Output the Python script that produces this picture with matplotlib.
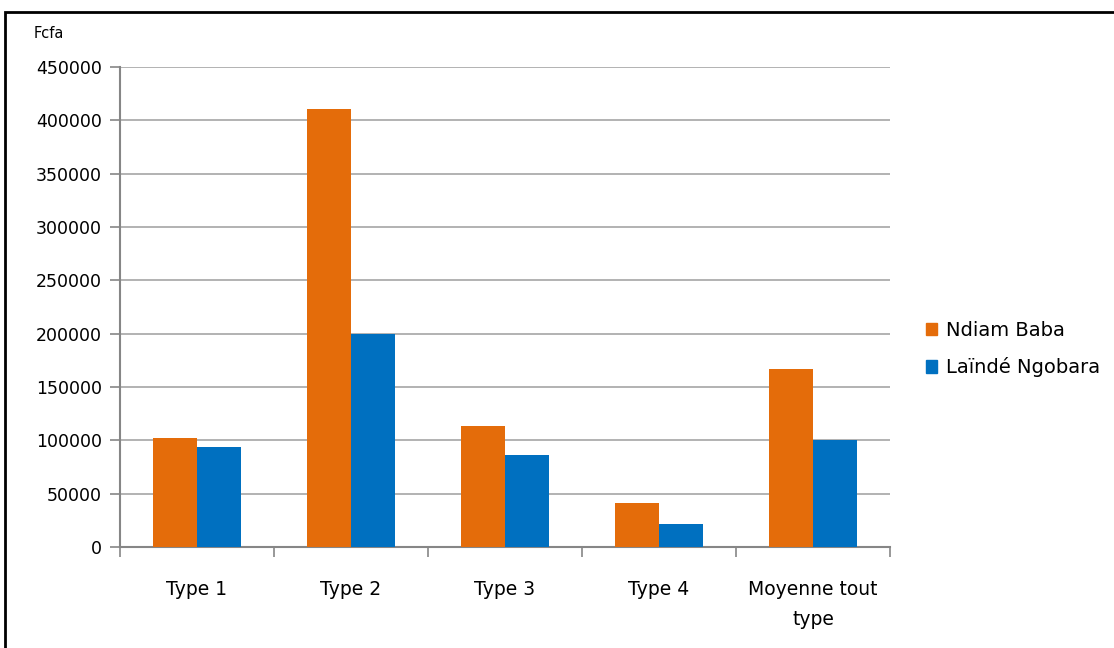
import matplotlib
matplotlib.use("Agg")
import matplotlib.pyplot as plt
import matplotlib.patches as mpatches
import numpy as np

# data
categories = ["Type 1", "Type 2", "Type 3", "Type 4", "Moyenne tout\ntype"]
ndiam_baba = [102000, 411000, 113000, 41000, 167000]
lainde_ngobara = [94000, 200000, 86000, 22000, 100000]
series_names = ["Ndiam Baba", "Laïndé Ngobara"]

colors = {"Ndiam Baba": "#E46C0A", "Laïndé Ngobara": "#0070C0"}

plt.rcParams['font.family'] = ['DejaVu Sans']

W, H = 1114, 648
fig = plt.figure(figsize=(W / 100, H / 100), dpi=100)
ax = fig.add_axes([120 / W, 1 - 547 / H, 770 / W, 480 / H])

x = np.arange(len(categories))
bw = 1 / 3.5   # excel gap width 150%
ax.bar(x - bw / 2, ndiam_baba, bw, color=colors["Ndiam Baba"], label="Ndiam Baba", zorder=3)
ax.bar(x + bw / 2, lainde_ngobara, bw, color=colors["Laïndé Ngobara"], label="Laïndé Ngobara", zorder=3)

ax.set_xlim(-0.5, len(categories) - 0.5)
ax.set_ylim(0, 450000)
ax.set_yticks(np.arange(0, 450001, 50000))
ax.yaxis.grid(True, color="#A6A6A6", linewidth=1.2, zorder=0)

# category boundaries as major ticks, labels on minor ticks
ax.set_xticks(np.arange(-0.5, len(categories), 1.0))
ax.set_xticklabels([])
ax.set_xticks(x, minor=True)
ax.set_xticklabels(categories, minor=True, fontsize=13.5, linespacing=1.7)
ax.tick_params(axis="x", which="minor", length=0, pad=24)
ax.tick_params(axis="x", which="major", length=7, color="#868686", width=1.2)
ax.tick_params(axis="y", length=7, color="#868686", width=1.2, labelsize=12.5, pad=6)

for s in ["top", "right"]:
    ax.spines[s].set_visible(False)
for s in ["left", "bottom"]:
    ax.spines[s].set_color("#868686")
    ax.spines[s].set_linewidth(1.5)

fig.text(34 / W, 1 - 33 / H, "Fcfa", fontsize=10.5, va="center", ha="left")

handles = [mpatches.Patch(color=colors[n], label=n) for n in series_names]
fig.legend(handles=handles, loc="center left", bbox_to_anchor=(908 / W, 1 - 349 / H),
           frameon=False, fontsize=14, handlelength=0.6, handleheight=0.6,
           handletextpad=0.45, labelspacing=0.9)

# outer frame
fig.add_artist(mpatches.Rectangle((5 / W, -0.05), 1.2, 1 - 12 / H + 0.05,
                                  transform=fig.transFigure, fill=False,
                                  edgecolor="black", linewidth=2))

fig.savefig("out.png", dpi=100)
